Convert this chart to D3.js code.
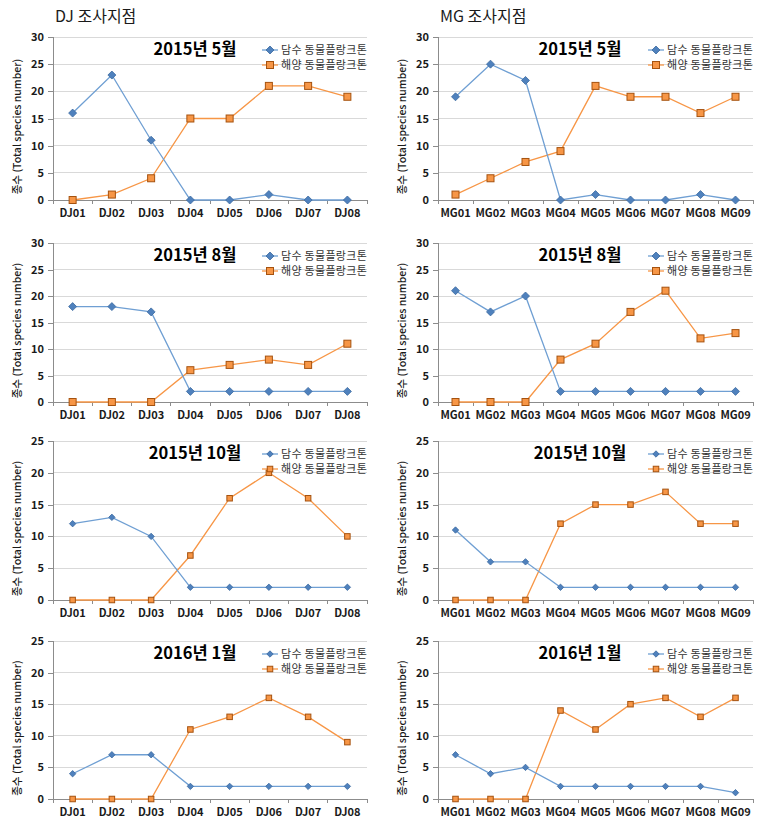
<!DOCTYPE html>
<html><head><meta charset="utf-8">
<script src="https://cdn.jsdelivr.net/npm/d3@7"></script>
<style>
html,body{margin:0;padding:0;background:#fff;}
svg{display:block;font-family:"Noto Sans CJK KR","Noto Sans",sans-serif;}
</style></head>
<body><svg id="c" width="774" height="821"></svg>
<script>
// ---- data ----
const siteHeaders = ["DJ 조사지점", "MG 조사지점"];
const djStations = ["DJ01","DJ02","DJ03","DJ04","DJ05","DJ06","DJ07","DJ08"];
const mgStations = ["MG01","MG02","MG03","MG04","MG05","MG06","MG07","MG08","MG09"];
const surveys = ["2015년 5월", "2015년 8월", "2015년 10월", "2016년 1월"];
const yMaxBySurvey = [30, 30, 25, 25];
const yTicks30 = [0, 5, 10, 15, 20, 25, 30];
const yTicks25 = [0, 5, 10, 15, 20, 25];
const legendLabels = ["담수 동물플랑크톤", "해양 동물플랑크톤"];
const yAxisTitle = "종수 (Total species number)";

const djFreshwater = [
  [16, 23, 11, 0, 0, 1, 0, 0],
  [18, 18, 17, 2, 2, 2, 2, 2],
  [12, 13, 10, 2, 2, 2, 2, 2],
  [4, 7, 7, 2, 2, 2, 2, 2]
];
const djMarine = [
  [0, 1, 4, 15, 15, 21, 21, 19],
  [0, 0, 0, 6, 7, 8, 7, 11],
  [0, 0, 0, 7, 16, 20, 16, 10],
  [0, 0, 0, 11, 13, 16, 13, 9]
];
const mgFreshwater = [
  [19, 25, 22, 0, 1, 0, 0, 1, 0],
  [21, 17, 20, 2, 2, 2, 2, 2, 2],
  [11, 6, 6, 2, 2, 2, 2, 2, 2],
  [7, 4, 5, 2, 2, 2, 2, 2, 1]
];
const mgMarine = [
  [1, 4, 7, 9, 21, 19, 19, 16, 19],
  [0, 0, 0, 8, 11, 17, 21, 12, 13],
  [0, 0, 0, 12, 15, 15, 17, 12, 12],
  [0, 0, 0, 14, 11, 15, 16, 13, 16]
];

// ---- layout ----
const colX = [[53, 367], [438, 753]];
const rowY = [[37, 200], [243, 402], [441, 600], [641, 799]];
const colOffset = [0, 385];

const blueLine = "#6f9fd3", blueFill = "#4f81bd", blueStroke = "#3b6aa0";
const orangeLine = "#f79646", orangeFill = "#f79646", orangeStroke = "#a5520f";
const gridColor = "#d9d9d9", axisColor = "#8c8c8c", textColor = "#1a1a1a";

const svg = d3.select("#c");

// column headers
siteHeaders.forEach((h, c) => {
  svg.append("text").attr("x", colX[c][0] + 2).attr("y", 22)
    .attr("font-size", 16).attr("fill", textColor).text(h);
});

function drawPanel(c, r) {
  const stations = c === 0 ? djStations : mgStations;
  const fresh = c === 0 ? djFreshwater[r] : mgFreshwater[r];
  const marine = c === 0 ? djMarine[r] : mgMarine[r];
  const ticks = yMaxBySurvey[r] === 30 ? yTicks30 : yTicks25;
  const [x0, x1] = colX[c];
  const [y0, y1] = rowY[r];
  const big = r < 2;

  const x = d3.scaleBand().domain(stations).range([x0, x1]);
  const xc = d => x(d) + x.bandwidth() / 2;
  const y = d3.scaleLinear().domain([0, yMaxBySurvey[r]]).range([y1, y0]);

  const g = svg.append("g");

  // gridlines
  g.selectAll("line.grid").data(ticks.filter(t => t > 0)).enter().append("line")
    .attr("x1", x0).attr("x2", x1).attr("y1", d => y(d)).attr("y2", d => y(d))
    .attr("stroke", gridColor).attr("stroke-width", 1).attr("shape-rendering", "crispEdges");

  // y axis
  const ya = g.append("g").attr("transform", `translate(${x0},0)`)
    .call(d3.axisLeft(y).tickValues(ticks).tickSize(5).tickPadding(4));
  ya.select(".domain").attr("stroke", axisColor).attr("shape-rendering", "crispEdges");
  ya.selectAll(".tick line").attr("stroke", axisColor).attr("shape-rendering", "crispEdges");
  ya.selectAll(".tick text").attr("font-size", 11).attr("font-weight", 700)
    .attr("fill", textColor).attr("font-family", "'Noto Sans CJK KR',sans-serif");

  // x axis baseline + boundary ticks
  g.append("line").attr("x1", x0).attr("x2", x1).attr("y1", y1).attr("y2", y1)
    .attr("stroke", axisColor).attr("shape-rendering", "crispEdges");
  const bounds = stations.map(s => x(s)).concat([x1]);
  g.selectAll("line.xt").data(bounds).enter().append("line")
    .attr("x1", d => d).attr("x2", d => d).attr("y1", y1).attr("y2", y1 + 4)
    .attr("stroke", axisColor).attr("shape-rendering", "crispEdges");
  g.selectAll("text.xl").data(stations).enter().append("text")
    .attr("x", d => xc(d)).attr("y", y1 + 17)
    .attr("text-anchor", "middle").attr("font-size", 11).attr("font-weight", 700)
    .attr("fill", textColor).text(d => d);

  // y axis title
  const ty = (y0 + y1) / 2 + 8;
  const tx = colOffset[c] + 21;
  g.append("text").attr("transform", `translate(${tx},${ty}) rotate(-90)`)
    .attr("text-anchor", "middle").attr("font-size", 10.5).attr("font-weight", 500)
    .attr("fill", textColor).text(yAxisTitle);

  // panel title
  g.append("text").attr("x", x0 + 142).attr("y", y0 + 18)
    .attr("text-anchor", "middle").attr("font-size", 16.5).attr("font-weight", 700)
    .attr("fill", "#000").text(surveys[r]);

  // lines
  const line = d3.line().x((d, i) => xc(stations[i])).y(d => y(d));
  g.append("path").datum(marine).attr("d", line).attr("fill", "none")
    .attr("stroke", orangeLine).attr("stroke-width", 1.3);
  g.append("path").datum(fresh).attr("d", line).attr("fill", "none")
    .attr("stroke", blueLine).attr("stroke-width", 1.3);

  const sq = big ? 7 : 5.5;
  const dm = big ? 4 : 3.2;
  const diamond = (cx, cy) => `M${cx},${cy - dm}L${cx + dm},${cy}L${cx},${cy + dm}L${cx - dm},${cy}Z`;

  g.selectAll("rect.m").data(marine).enter().append("rect")
    .attr("x", (d, i) => xc(stations[i]) - sq / 2).attr("y", d => y(d) - sq / 2)
    .attr("width", sq).attr("height", sq)
    .attr("fill", orangeFill).attr("stroke", orangeStroke).attr("stroke-width", 1);
  g.selectAll("path.f").data(fresh).enter().append("path")
    .attr("d", (d, i) => diamond(xc(stations[i]), y(d)))
    .attr("fill", blueFill).attr("stroke", blueStroke).attr("stroke-width", 0.8);

  // legend
  const lx = x1 - 105, lyRows = [y0 + 13, y0 + 28];
  [0, 1].forEach(k => {
    const ly = lyRows[k];
    g.append("line").attr("x1", lx).attr("x2", lx + 16).attr("y1", ly).attr("y2", ly)
      .attr("stroke", k === 0 ? blueLine : orangeLine).attr("stroke-width", 1.3);
    if (k === 0) {
      g.append("path").attr("d", diamond(lx + 8, ly)).attr("fill", blueFill)
        .attr("stroke", blueStroke).attr("stroke-width", 0.8);
    } else {
      g.append("rect").attr("x", lx + 8 - sq / 2).attr("y", ly - sq / 2)
        .attr("width", sq).attr("height", sq).attr("fill", orangeFill)
        .attr("stroke", orangeStroke).attr("stroke-width", 1);
    }
    g.append("text").attr("x", lx + 19).attr("y", ly + 4)
      .attr("font-size", 11).attr("letter-spacing", 0.3).attr("fill", "#333").text(legendLabels[k]);
  });
}

for (let c = 0; c < 2; c++) for (let r = 0; r < 4; r++) drawPanel(c, r);
</script></body></html>
